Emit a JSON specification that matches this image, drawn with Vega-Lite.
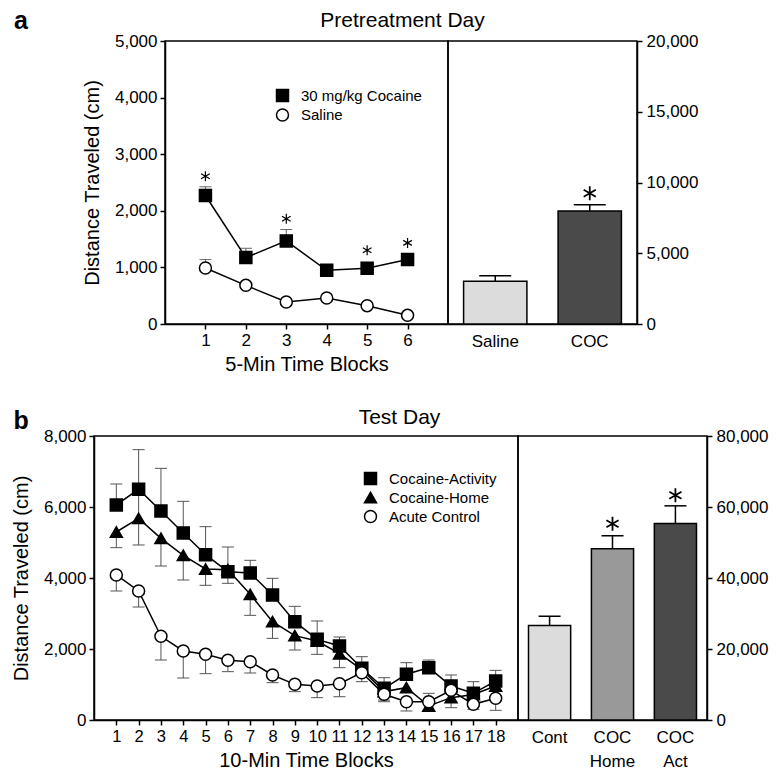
{
  "$schema": "https://vega.github.io/schema/vega-lite/v6.json",
  "padding": {"left": 10, "top": 9, "right": 5, "bottom": 4},
  "background": "white",
  "config": {
    "font": "Liberation Sans",
    "view": {"stroke": "black", "strokeWidth": 1.5},
    "axis": {"domainColor": "black", "domainWidth": 1.5, "tickColor": "black", "tickWidth": 1.5, "tickSize": 5, "labelFontSize": 17, "labelColor": "black", "labelFont": "Liberation Sans", "titleFont": "Liberation Sans", "titleFontSize": 20, "titleFontWeight": "normal", "titleColor": "black", "grid": false, "labelPadding": 3, "labelOverlap": false, "labelBound": false},
    "title": {"font": "Liberation Sans", "color": "black"},
    "legend": {"labelFont": "Liberation Sans", "labelColor": "black", "labelFontSize": 15, "labelLimit": 400}
  },
  "datasets": {
    "lineA": [
      {"block": 1, "groupA": "30 mg/kg Cocaine", "y": 2270},
      {"block": 2, "groupA": "30 mg/kg Cocaine", "y": 1173},
      {"block": 3, "groupA": "30 mg/kg Cocaine", "y": 1468},
      {"block": 4, "groupA": "30 mg/kg Cocaine", "y": 948},
      {"block": 5, "groupA": "30 mg/kg Cocaine", "y": 984},
      {"block": 6, "groupA": "30 mg/kg Cocaine", "y": 1138},
      {"block": 1, "groupA": "Saline", "y": 990},
      {"block": 2, "groupA": "Saline", "y": 683},
      {"block": 3, "groupA": "Saline", "y": 389},
      {"block": 4, "groupA": "Saline", "y": 460},
      {"block": 5, "groupA": "Saline", "y": 324},
      {"block": 6, "groupA": "Saline", "y": 153}
    ],
    "errA": [
      {"block": 1, "y": 2270, "y2": 2424, "cap": 2424},
      {"block": 2, "y": 1173, "y2": 1338, "cap": 1338},
      {"block": 3, "y": 1468, "y2": 1669, "cap": 1669},
      {"block": 1, "y": 990, "y2": 1138, "cap": 1138}
    ],
    "starsA": [
      {"block": 1, "y": 2611},
      {"block": 3, "y": 1858},
      {"block": 5, "y": 1302},
      {"block": 6, "y": 1433}
    ],
    "barA": [
      {"condA": "Saline", "y": 3017, "cap": 3413},
      {"condA": "COC", "y": 7986, "cap": 8431}
    ],
    "starsBarA": [
      {"condA": "COC", "y": 9237}
    ],
    "lineB": [
      {"block": 1, "groupB": "Cocaine-Activity", "y": 6057},
      {"block": 2, "groupB": "Cocaine-Activity", "y": 6498},
      {"block": 3, "groupB": "Cocaine-Activity", "y": 5888},
      {"block": 4, "groupB": "Cocaine-Activity", "y": 5268},
      {"block": 5, "groupB": "Cocaine-Activity", "y": 4657},
      {"block": 6, "groupB": "Cocaine-Activity", "y": 4179},
      {"block": 7, "groupB": "Cocaine-Activity", "y": 4141},
      {"block": 8, "groupB": "Cocaine-Activity", "y": 3521},
      {"block": 9, "groupB": "Cocaine-Activity", "y": 2770},
      {"block": 10, "groupB": "Cocaine-Activity", "y": 2272},
      {"block": 11, "groupB": "Cocaine-Activity", "y": 2084},
      {"block": 12, "groupB": "Cocaine-Activity", "y": 1456},
      {"block": 13, "groupB": "Cocaine-Activity", "y": 892},
      {"block": 14, "groupB": "Cocaine-Activity", "y": 1287},
      {"block": 15, "groupB": "Cocaine-Activity", "y": 1474},
      {"block": 16, "groupB": "Cocaine-Activity", "y": 958},
      {"block": 17, "groupB": "Cocaine-Activity", "y": 752},
      {"block": 18, "groupB": "Cocaine-Activity", "y": 1099},
      {"block": 1, "groupB": "Cocaine-Home", "y": 5296},
      {"block": 2, "groupB": "Cocaine-Home", "y": 5681},
      {"block": 3, "groupB": "Cocaine-Home", "y": 5118},
      {"block": 4, "groupB": "Cocaine-Home", "y": 4639},
      {"block": 5, "groupB": "Cocaine-Home", "y": 4254},
      {"block": 6, "groupB": "Cocaine-Home", "y": 4235},
      {"block": 7, "groupB": "Cocaine-Home", "y": 3540},
      {"block": 8, "groupB": "Cocaine-Home", "y": 2770},
      {"block": 9, "groupB": "Cocaine-Home", "y": 2376},
      {"block": 10, "groupB": "Cocaine-Home", "y": 2225},
      {"block": 11, "groupB": "Cocaine-Home", "y": 1868},
      {"block": 12, "groupB": "Cocaine-Home", "y": 1420},
      {"block": 13, "groupB": "Cocaine-Home", "y": 800},
      {"block": 14, "groupB": "Cocaine-Home", "y": 911},
      {"block": 15, "groupB": "Cocaine-Home", "y": 394},
      {"block": 16, "groupB": "Cocaine-Home", "y": 629},
      {"block": 17, "groupB": "Cocaine-Home", "y": 720},
      {"block": 18, "groupB": "Cocaine-Home", "y": 958},
      {"block": 1, "groupB": "Acute Control", "y": 4085},
      {"block": 2, "groupB": "Acute Control", "y": 3634},
      {"block": 3, "groupB": "Acute Control", "y": 2357},
      {"block": 4, "groupB": "Acute Control", "y": 1944},
      {"block": 5, "groupB": "Acute Control", "y": 1850},
      {"block": 6, "groupB": "Acute Control", "y": 1681},
      {"block": 7, "groupB": "Acute Control", "y": 1643},
      {"block": 8, "groupB": "Acute Control", "y": 1268},
      {"block": 9, "groupB": "Acute Control", "y": 1005},
      {"block": 10, "groupB": "Acute Control", "y": 958},
      {"block": 11, "groupB": "Acute Control", "y": 1023},
      {"block": 12, "groupB": "Acute Control", "y": 1333},
      {"block": 13, "groupB": "Acute Control", "y": 724},
      {"block": 14, "groupB": "Acute Control", "y": 515},
      {"block": 15, "groupB": "Acute Control", "y": 515},
      {"block": 16, "groupB": "Acute Control", "y": 836},
      {"block": 17, "groupB": "Acute Control", "y": 441},
      {"block": 18, "groupB": "Acute Control", "y": 611}
    ],
    "errB": [
      {"block": 1, "y": 6057, "y2": 6648, "cap": 6648},
      {"block": 2, "y": 5700, "y2": 7615, "cap": 7615},
      {"block": 3, "y": 5888, "y2": 7089, "cap": 7089},
      {"block": 4, "y": 5268, "y2": 6160, "cap": 6160},
      {"block": 5, "y": 4657, "y2": 5446, "cap": 5446},
      {"block": 6, "y": 4179, "y2": 4873, "cap": 4873},
      {"block": 7, "y": 4141, "y2": 4498, "cap": 4498},
      {"block": 8, "y": 3521, "y2": 3991, "cap": 3991},
      {"block": 9, "y": 2770, "y2": 3202, "cap": 3202},
      {"block": 10, "y": 2272, "y2": 2789, "cap": 2789},
      {"block": 11, "y": 2084, "y2": 2338, "cap": 2338},
      {"block": 12, "y": 1456, "y2": 1784, "cap": 1784},
      {"block": 13, "y": 892, "y2": 1192, "cap": 1192},
      {"block": 14, "y": 1287, "y2": 1615, "cap": 1615},
      {"block": 15, "y": 1474, "y2": 1690, "cap": 1690},
      {"block": 16, "y": 958, "y2": 1268, "cap": 1268},
      {"block": 17, "y": 752, "y2": 1080, "cap": 1080},
      {"block": 18, "y": 1099, "y2": 1399, "cap": 1399},
      {"block": 1, "y": 4855, "y2": 5296, "cap": 4855},
      {"block": 2, "y": 4930, "y2": 5681, "cap": 4930},
      {"block": 3, "y": 4338, "y2": 5118, "cap": 4338},
      {"block": 4, "y": 3944, "y2": 4639, "cap": 3944},
      {"block": 5, "y": 3794, "y2": 4254, "cap": 3794},
      {"block": 6, "y": 3850, "y2": 4235, "cap": 3850},
      {"block": 7, "y": 2948, "y2": 3540, "cap": 2948},
      {"block": 8, "y": 2300, "y2": 2770, "cap": 2300},
      {"block": 9, "y": 1972, "y2": 2376, "cap": 1972},
      {"block": 10, "y": 1850, "y2": 2225, "cap": 1850},
      {"block": 11, "y": 1474, "y2": 1868, "cap": 1474},
      {"block": 13, "y": 560, "y2": 800, "cap": 560},
      {"block": 15, "y": 254, "y2": 394, "cap": 254},
      {"block": 16, "y": 347, "y2": 629, "cap": 347},
      {"block": 1, "y": 3634, "y2": 4085, "cap": 3634},
      {"block": 2, "y": 3183, "y2": 3634, "cap": 3183},
      {"block": 3, "y": 1690, "y2": 2357, "cap": 1690},
      {"block": 4, "y": 1183, "y2": 1944, "cap": 1183},
      {"block": 5, "y": 1305, "y2": 1850, "cap": 1305},
      {"block": 6, "y": 1362, "y2": 1681, "cap": 1362},
      {"block": 7, "y": 1324, "y2": 1643, "cap": 1324},
      {"block": 8, "y": 1052, "y2": 1268, "cap": 1052},
      {"block": 9, "y": 798, "y2": 1005, "cap": 798},
      {"block": 10, "y": 629, "y2": 958, "cap": 629},
      {"block": 11, "y": 656, "y2": 1023, "cap": 656},
      {"block": 12, "y": 1080, "y2": 1333, "cap": 1080},
      {"block": 13, "y": 515, "y2": 724, "cap": 515},
      {"block": 14, "y": 254, "y2": 515, "cap": 254},
      {"block": 15, "y": 515, "y2": 752, "cap": 752},
      {"block": 17, "y": 300, "y2": 441, "cap": 300},
      {"block": 18, "y": 273, "y2": 611, "cap": 273}
    ],
    "barB": [
      {"condB": "Cont", "y": 26605, "cap": 29228},
      {"condB": "COC|Home", "y": 48245, "cap": 51899},
      {"condB": "COC|Act", "y": 55365, "cap": 60330}
    ],
    "starsBarB": [
      {"condB": "COC|Home", "y": 55265},
      {"condB": "COC|Act", "y": 63330}
    ],
    "empty": []
  },
  "columns": 1,
  "align": "none",
  "spacing": 31,
  "resolve": {"scale": {"fill": "independent", "shape": "independent", "stroke": "independent"}, "legend": {"fill": "independent", "shape": "independent", "stroke": "independent"}},
  "concat": [
    {
      "hconcat": [
        {
          "width": 71,
          "height": 283,
          "view": {"stroke": null},
          "title": {"text": "a", "anchor": "start", "frame": "group", "fontSize": 25, "fontWeight": "bold", "dx": -80, "offset": 7},
          "data": {"name": "empty"},
          "mark": "point"
        },
        {
          "width": 283,
          "height": 283,
          "layer": [
            {
              "data": {"name": "errA"},
              "mark": {"type": "rule", "color": "#666", "strokeWidth": 1},
              "encoding": {
                "x": {"field": "block", "type": "quantitative", "scale": {"domain": [0, 7], "nice": false, "zero": false}, "axis": {"values": [1, 2, 3, 4, 5, 6], "title": "5-Min Time Blocks", "titlePadding": 6, "labelOverlap": false}},
                "y": {"field": "y", "type": "quantitative", "scale": {"domain": [0, 5000], "nice": false}, "axis": {"values": [0, 1000, 2000, 3000, 4000, 5000], "format": ",.0f", "title": "Distance Traveled (cm)", "titlePadding": 12, "labelOverlap": false}},
                "y2": {"field": "y2"}
              }
            },
            {
              "data": {"name": "errA"},
              "mark": {"type": "tick", "orient": "horizontal", "size": 12, "thickness": 1, "color": "#666", "opacity": 1},
              "encoding": {
                "x": {"field": "block", "type": "quantitative"},
                "y": {"field": "cap", "type": "quantitative"}
              }
            },
            {
              "data": {"name": "lineA"},
              "mark": {"type": "line", "color": "black", "strokeWidth": 1.5},
              "encoding": {
                "x": {"field": "block", "type": "quantitative"},
                "y": {"field": "y", "type": "quantitative"},
                "detail": {"field": "groupA", "type": "nominal"}
              }
            },
            {
              "data": {"name": "lineA"},
              "mark": {"type": "point", "filled": false, "size": 144, "strokeWidth": 1.5, "opacity": 1},
              "encoding": {
                "x": {"field": "block", "type": "quantitative"},
                "y": {"field": "y", "type": "quantitative"},
                "shape": {"field": "groupA", "type": "nominal", "scale": {"domain": ["30 mg/kg Cocaine", "Saline"], "range": ["square", "circle"]},
                  "legend": {"title": null, "orient": "none", "legendX": 110, "legendY": 47, "symbolSize": 144, "symbolStrokeWidth": 1.5, "rowPadding": 0.5, "labelOffset": 11, "symbolOpacity": 1,
                    "encode": {"symbols": {"update": {"shape": {"signal": "datum.value === 'Saline' ? 'M-1.5,0H-1M1,0H1.5M-1,0A1,1 0 1,1 1,0A1,1 0 1,1 -1,0Z' : 'M-1.5,0H1.5M-1,-1H1V1H-1Z'"}, "strokeWidth": {"value": 1.5}}}}}},
                "fill": {"field": "groupA", "type": "nominal", "scale": {"domain": ["30 mg/kg Cocaine", "Saline"], "range": ["black", "white"]}},
                "stroke": {"field": "groupA", "type": "nominal", "scale": {"domain": ["30 mg/kg Cocaine", "Saline"], "range": ["black", "black"]}}
              }
            },
            {
              "data": {"name": "starsA"},
              "mark": {"type": "point", "shape": "M0,-1V1M-0.866,-0.5L0.866,0.5M-0.866,0.5L0.866,-0.5", "size": 100, "filled": false, "stroke": "black", "strokeWidth": 1.2, "opacity": 1},
              "encoding": {
                "x": {"field": "block", "type": "quantitative"},
                "y": {"field": "y", "type": "quantitative"}
              }
            }
          ]
        },
        {
          "width": 189,
          "height": 283,
          "title": {"text": "Pretreatment Day", "anchor": "middle", "dx": -140, "fontSize": 21, "fontWeight": "normal", "offset": 1},
          "layer": [
            {
              "data": {"name": "barA"},
              "mark": {"type": "bar", "stroke": "black", "strokeWidth": 1.5},
              "encoding": {
                "x": {"field": "condA", "type": "nominal", "sort": ["Saline", "COC"], "scale": {"paddingInner": 0.33, "paddingOuter": 0.165}, "axis": {"title": null, "ticks": false, "labelAngle": 0, "labelPadding": 9}},
                "y": {"field": "y", "type": "quantitative", "scale": {"domain": [0, 20000], "nice": false}, "axis": {"orient": "right", "values": [0, 5000, 10000, 15000, 20000], "format": ",.0f", "title": null, "labelPadding": 4, "labelOverlap": false}},
                "fill": {"field": "condA", "type": "nominal", "scale": {"domain": ["Saline", "COC"], "range": ["#dcdcdc", "#4a4a4a"]}, "legend": null}
              }
            },
            {
              "data": {"name": "barA"},
              "mark": {"type": "rule", "color": "black", "strokeWidth": 1.5},
              "encoding": {
                "x": {"field": "condA", "type": "nominal", "sort": ["Saline", "COC"]},
                "y": {"field": "y", "type": "quantitative"},
                "y2": {"field": "cap"}
              }
            },
            {
              "data": {"name": "barA"},
              "mark": {"type": "tick", "size": 32, "thickness": 1.5, "color": "black", "opacity": 1},
              "encoding": {
                "x": {"field": "condA", "type": "nominal", "sort": ["Saline", "COC"]},
                "y": {"field": "cap", "type": "quantitative"}
              }
            },
            {
              "data": {"name": "starsBarA"},
              "mark": {"type": "point", "shape": "M0,-1V1M-0.866,-0.5L0.866,0.5M-0.866,0.5L0.866,-0.5", "size": 196, "filled": false, "stroke": "black", "strokeWidth": 1.8, "opacity": 1},
              "encoding": {
                "x": {"field": "condA", "type": "nominal", "sort": ["Saline", "COC"]},
                "y": {"field": "y", "type": "quantitative"}
              }
            }
          ]
        }
      ],
      "spacing": 0,
      "bounds": "flush",
      "resolve": {"scale": {"fill": "independent", "shape": "independent", "stroke": "independent"}, "legend": {"fill": "independent", "shape": "independent", "stroke": "independent"}}
    },
    {
      "hconcat": [
        {
          "width": 424,
          "height": 284,
          "title": {"text": "b", "anchor": "start", "frame": "bounds", "fontSize": 25, "fontWeight": "bold", "dx": 2, "offset": -7},
          "layer": [
            {
              "data": {"name": "errB"},
              "mark": {"type": "rule", "color": "#555", "strokeWidth": 1},
              "encoding": {
                "x": {"field": "block", "type": "ordinal", "scale": {"type": "point", "padding": 1, "domain": [1, 2, 3, 4, 5, 6, 7, 8, 9, 10, 11, 12, 13, 14, 15, 16, 17, 18]}, "axis": {"title": "10-Min Time Blocks", "titlePadding": 6, "labelOverlap": false, "labelAngle": 0, "ticks": true, "labelFontSize": 16.5, "labelBound": false}},
                "y": {"field": "y", "type": "quantitative", "scale": {"domain": [0, 8000], "nice": false}, "axis": {"values": [0, 2000, 4000, 6000, 8000], "format": ",.0f", "title": "Distance Traveled (cm)", "titlePadding": 12, "labelOverlap": false}},
                "y2": {"field": "y2"}
              }
            },
            {
              "data": {"name": "errB"},
              "mark": {"type": "tick", "orient": "horizontal", "size": 12, "thickness": 1, "color": "#555", "opacity": 1},
              "encoding": {
                "x": {"field": "block", "type": "ordinal"},
                "y": {"field": "cap", "type": "quantitative"}
              }
            },
            {
              "data": {"name": "lineB"},
              "mark": {"type": "line", "color": "black", "strokeWidth": 1.5},
              "encoding": {
                "x": {"field": "block", "type": "ordinal"},
                "y": {"field": "y", "type": "quantitative"},
                "detail": {"field": "groupB", "type": "nominal"}
              }
            },
            {
              "data": {"name": "lineB"},
              "mark": {"type": "point", "filled": false, "size": 144, "strokeWidth": 1.5, "opacity": 1},
              "encoding": {
                "x": {"field": "block", "type": "ordinal"},
                "y": {"field": "y", "type": "quantitative"},
                "shape": {"field": "groupB", "type": "nominal", "scale": {"domain": ["Cocaine-Activity", "Cocaine-Home", "Acute Control"], "range": ["square", "triangle-up", "circle"]},
                  "legend": {"title": null, "orient": "none", "legendX": 269, "legendY": 35, "symbolSize": 144, "symbolStrokeWidth": 1.5, "rowPadding": 1, "labelOffset": 11, "symbolOpacity": 1,
                    "encode": {"symbols": {"update": {"shape": {"signal": "datum.value === 'Acute Control' ? 'M-1.5,0H-1M1,0H1.5M-1,0A1,1 0 1,1 1,0A1,1 0 1,1 -1,0Z' : datum.value === 'Cocaine-Home' ? 'M-1.5,0.2H1.5M0,-1.05L1.15,0.9H-1.15Z' : 'M-1.5,0H1.5M-1,-1H1V1H-1Z'"}, "strokeWidth": {"value": 1.5}}}}}},
                "fill": {"field": "groupB", "type": "nominal", "scale": {"domain": ["Cocaine-Activity", "Cocaine-Home", "Acute Control"], "range": ["black", "black", "white"]}},
                "stroke": {"field": "groupB", "type": "nominal", "scale": {"domain": ["Cocaine-Activity", "Cocaine-Home", "Acute Control"], "range": ["black", "black", "black"]}}
              }
            }
          ]
        },
        {
          "width": 189,
          "height": 284,
          "title": {"text": "Test Day", "anchor": "middle", "dx": -213, "fontSize": 21, "fontWeight": "normal", "offset": -1},
          "layer": [
            {
              "data": {"name": "barB"},
              "mark": {"type": "bar", "stroke": "black", "strokeWidth": 1.5},
              "encoding": {
                "x": {"field": "condB", "type": "nominal", "sort": ["Cont", "COC|Home", "COC|Act"], "scale": {"paddingInner": 0.33, "paddingOuter": 0.167}, "axis": {"title": null, "ticks": false, "labelAngle": 0, "labelPadding": 9, "labelLineHeight": 24, "labelExpr": "split(datum.label, '|')"}},
                "y": {"field": "y", "type": "quantitative", "scale": {"domain": [0, 80000], "nice": false}, "axis": {"orient": "right", "values": [0, 20000, 40000, 60000, 80000], "format": ",.0f", "title": null, "labelPadding": 4, "labelOverlap": false}},
                "fill": {"field": "condB", "type": "nominal", "scale": {"domain": ["Cont", "COC|Home", "COC|Act"], "range": ["#dcdcdc", "#999999", "#4a4a4a"]}, "legend": null}
              }
            },
            {
              "data": {"name": "barB"},
              "mark": {"type": "rule", "color": "black", "strokeWidth": 1.5},
              "encoding": {
                "x": {"field": "condB", "type": "nominal", "sort": ["Cont", "COC|Home", "COC|Act"]},
                "y": {"field": "y", "type": "quantitative"},
                "y2": {"field": "cap"}
              }
            },
            {
              "data": {"name": "barB"},
              "mark": {"type": "tick", "size": 22, "thickness": 1.5, "color": "black", "opacity": 1},
              "encoding": {
                "x": {"field": "condB", "type": "nominal", "sort": ["Cont", "COC|Home", "COC|Act"]},
                "y": {"field": "cap", "type": "quantitative"}
              }
            },
            {
              "data": {"name": "starsBarB"},
              "mark": {"type": "point", "shape": "M0,-1V1M-0.866,-0.5L0.866,0.5M-0.866,0.5L0.866,-0.5", "size": 196, "filled": false, "stroke": "black", "strokeWidth": 1.8, "opacity": 1},
              "encoding": {
                "x": {"field": "condB", "type": "nominal", "sort": ["Cont", "COC|Home", "COC|Act"]},
                "y": {"field": "y", "type": "quantitative"}
              }
            }
          ]
        }
      ],
      "spacing": 0,
      "bounds": "flush",
      "resolve": {"scale": {"fill": "independent", "shape": "independent", "stroke": "independent"}, "legend": {"fill": "independent", "shape": "independent", "stroke": "independent"}}
    }
  ]
}
